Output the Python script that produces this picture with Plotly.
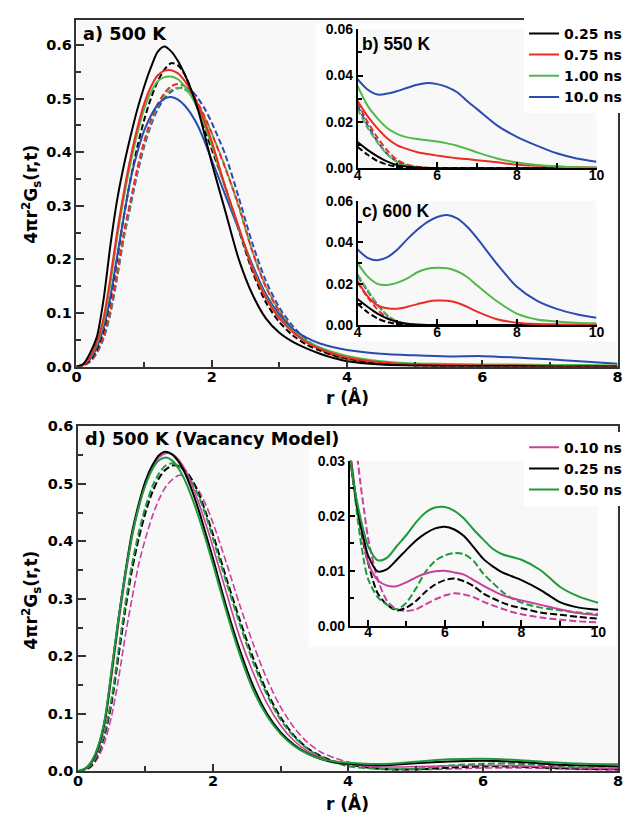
import plotly.graph_objects as go

# ---------------- data ----------------
R_MAIN = [0, 0.1, 0.2, 0.3, 0.4, 0.5, 0.6, 0.7, 0.8, 0.9, 1.0, 1.1, 1.2, 1.3, 1.4, 1.5, 1.6, 1.7, 1.8, 1.9,
          2.0, 2.2, 2.4, 2.6, 2.8, 3.0, 3.2, 3.4, 3.6, 3.8, 4.0,
          4.5, 5.0, 5.5, 6.0, 6.5, 7.0, 7.5, 8.0]

# panel a (500 K)
A_BK_S = [0, 0.005, 0.025, 0.055, 0.125, 0.225, 0.31, 0.375, 0.43, 0.48, 0.522, 0.558, 0.587, 0.597, 0.588, 0.57, 0.545, 0.515, 0.478, 0.43,
          0.38, 0.29, 0.20, 0.135, 0.09, 0.063, 0.046, 0.034, 0.024, 0.016, 0.010,
          0.004, 0.002, 0.001, 0.001, 0.001, 0.0, 0.0, 0.0]
A_BK_D = [0, 0.003, 0.012, 0.032, 0.068, 0.125, 0.2, 0.28, 0.35, 0.41, 0.46, 0.5, 0.532, 0.554, 0.566, 0.562, 0.545, 0.515, 0.478, 0.44,
          0.405, 0.335, 0.255, 0.178, 0.12, 0.083, 0.058, 0.041, 0.03, 0.021, 0.015,
          0.006, 0.002, 0.001, 0.001, 0.001, 0, 0, 0]
A_RD_S = [0, 0.004, 0.018, 0.045, 0.09, 0.165, 0.25, 0.325, 0.39, 0.445, 0.49, 0.522, 0.543, 0.552, 0.553, 0.547, 0.533, 0.513, 0.487, 0.455,
          0.42, 0.335, 0.26, 0.183, 0.128, 0.09, 0.064, 0.045, 0.033, 0.024, 0.017,
          0.008, 0.004, 0.003, 0.002, 0.002, 0.001, 0.001, 0.0]
A_RD_D = [0, 0.002, 0.01, 0.028, 0.058, 0.105, 0.175, 0.25, 0.31, 0.37, 0.42, 0.46, 0.49, 0.51, 0.523, 0.527, 0.523, 0.51, 0.49, 0.465,
          0.435, 0.37, 0.30, 0.215, 0.148, 0.103, 0.069, 0.047, 0.032, 0.021, 0.014,
          0.005, 0.002, 0.001, 0.001, 0, 0, 0, 0]
A_GR_S = [0, 0.004, 0.017, 0.042, 0.083, 0.155, 0.24, 0.315, 0.38, 0.435, 0.48, 0.512, 0.532, 0.54, 0.541, 0.536, 0.523, 0.504, 0.479, 0.448,
          0.413, 0.333, 0.258, 0.185, 0.13, 0.092, 0.066, 0.048, 0.036, 0.027, 0.020,
          0.010, 0.006, 0.005, 0.004, 0.004, 0.003, 0.003, 0.002]
A_GR_D = [0, 0.002, 0.01, 0.027, 0.056, 0.102, 0.17, 0.245, 0.305, 0.365, 0.415, 0.455, 0.485, 0.505, 0.516, 0.52, 0.517, 0.506, 0.488, 0.463,
          0.435, 0.372, 0.297, 0.215, 0.15, 0.104, 0.07, 0.047, 0.032, 0.021, 0.014,
          0.006, 0.002, 0.001, 0.001, 0, 0, 0, 0]
A_BL_S = [0, 0.003, 0.014, 0.036, 0.072, 0.13, 0.205, 0.28, 0.35, 0.40, 0.44, 0.468, 0.488, 0.5, 0.503, 0.498, 0.487, 0.47, 0.448, 0.418,
          0.385, 0.32, 0.255, 0.19, 0.135, 0.097, 0.07, 0.054, 0.043, 0.036, 0.031,
          0.024, 0.021, 0.019, 0.0195, 0.017, 0.0135, 0.0095, 0.0055]
A_BL_D = [0, 0.002, 0.009, 0.025, 0.052, 0.098, 0.165, 0.24, 0.30, 0.36, 0.41, 0.45, 0.48, 0.5, 0.513, 0.519, 0.521, 0.515, 0.5, 0.48,
          0.455, 0.395, 0.315, 0.23, 0.16, 0.11, 0.075, 0.05, 0.034, 0.023, 0.016,
          0.007, 0.003, 0.002, 0.001, 0.001, 0, 0, 0]

# insets b (550 K) and c (600 K)
R_IN = [4.0, 4.25, 4.5, 4.75, 5.0, 5.25, 5.5, 5.75, 6.0, 6.25, 6.5, 6.75, 7.0, 7.5, 8.0, 8.5, 9.0, 9.5, 10.0]
B_BK_S = [0.0113, 0.0079, 0.0051, 0.0028, 0.0013, 0.0006, 0.0003, 0.0001, 0, 0, 0, 0, 0, 0, 0, 0, 0, 0, 0]
B_BK_D = [0.0092, 0.0058, 0.0031, 0.0015, 0.0006, 0.0002, 0, 0, 0, 0, 0, 0, 0, 0, 0, 0, 0, 0, 0]
B_RD_S = [0.029, 0.0225, 0.0172, 0.0128, 0.0098, 0.0082, 0.0069, 0.0061, 0.0054, 0.0048, 0.0043, 0.0039, 0.0034, 0.0025, 0.0015, 0.001, 0.0007, 0.0004, 0.0003]
B_RD_D = [0.0285, 0.02, 0.0132, 0.0075, 0.0035, 0.0015, 0.0006, 0.0002, 0, 0, 0, 0, 0, 0, 0, 0, 0, 0, 0]
B_GR_S = [0.0355, 0.027, 0.0215, 0.0172, 0.0147, 0.0133, 0.0126, 0.012, 0.0115, 0.0107, 0.0097, 0.0083, 0.0068, 0.0042, 0.0024, 0.0013, 0.0007, 0.0004, 0.0003]
B_GR_D = [0.0255, 0.0175, 0.011, 0.0058, 0.0026, 0.001, 0.0004, 0, 0, 0, 0, 0, 0, 0, 0, 0, 0, 0, 0]
B_BL_S = [0.0385, 0.034, 0.0318, 0.0322, 0.0333, 0.0347, 0.036, 0.0368, 0.0363, 0.035, 0.0328, 0.029, 0.0255, 0.0185, 0.0135, 0.0097, 0.0064, 0.0042, 0.0028]
B_BL_D = [0.027, 0.0185, 0.0115, 0.006, 0.0027, 0.0011, 0.0004, 0.0001, 0, 0, 0, 0, 0, 0, 0, 0, 0, 0, 0]

C_BK_S = [0.0126, 0.0088, 0.0055, 0.0031, 0.0015, 0.0006, 0.0002, 0, 0, 0, 0, 0, 0, 0, 0, 0, 0, 0, 0]
C_BK_D = [0.0103, 0.0062, 0.0032, 0.0014, 0.0005, 0.0001, 0, 0, 0, 0, 0, 0, 0, 0, 0, 0, 0, 0, 0]
C_RD_S = [0.0213, 0.014, 0.0095, 0.0081, 0.0079, 0.0088, 0.0101, 0.0113, 0.0118, 0.0117, 0.0108, 0.0088, 0.0065, 0.0028, 0.0011, 0.0005, 0.0003, 0.0002, 0.0002]
C_RD_D = [0.0205, 0.0135, 0.0075, 0.0033, 0.0013, 0.0004, 0, 0, 0, 0, 0, 0, 0, 0, 0, 0, 0, 0, 0]
C_GR_S = [0.030, 0.0235, 0.0199, 0.0194, 0.0205, 0.0225, 0.0255, 0.0272, 0.0277, 0.0274, 0.026, 0.0232, 0.0192, 0.0115, 0.0055, 0.0027, 0.0017, 0.0011, 0.0008]
C_GR_D = [0.0245, 0.017, 0.010, 0.0046, 0.0017, 0.0006, 0, 0, 0, 0, 0, 0, 0, 0, 0, 0, 0, 0, 0]
C_BL_S = [0.0365, 0.0325, 0.0313, 0.0328, 0.0365, 0.0415, 0.046, 0.0497, 0.0522, 0.0532, 0.0515, 0.0475, 0.042, 0.0295, 0.0185, 0.0118, 0.0078, 0.0052, 0.0035]
C_BL_D = [0.0237, 0.0165, 0.0098, 0.0045, 0.0017, 0.0006, 0, 0, 0, 0, 0, 0, 0, 0, 0, 0, 0, 0, 0]

# panel d (500 K, vacancy model)
D_MG_S = [0, 0.003, 0.014, 0.038, 0.083, 0.165, 0.255, 0.335, 0.405, 0.458, 0.498, 0.527, 0.546, 0.553, 0.551, 0.541, 0.522, 0.495, 0.463, 0.428,
          0.39, 0.31, 0.232, 0.17, 0.118, 0.08, 0.053, 0.035, 0.023, 0.016, 0.0115,
          0.0073, 0.0079, 0.0095, 0.01, 0.0093, 0.0073, 0.0056, 0.0046]
D_MG_D = [0, 0.002, 0.008, 0.024, 0.052, 0.097, 0.16, 0.235, 0.3, 0.36, 0.405, 0.443, 0.473, 0.495, 0.508, 0.515, 0.513, 0.503, 0.486, 0.462,
          0.432, 0.362, 0.288, 0.22, 0.16, 0.112, 0.076, 0.05, 0.033, 0.023, 0.016,
          0.0045, 0.0027, 0.0039, 0.0055, 0.0057, 0.0044, 0.0031, 0.0021]
D_BK_S = [0, 0.004, 0.016, 0.042, 0.09, 0.175, 0.265, 0.345, 0.415, 0.465, 0.505, 0.532, 0.55, 0.556, 0.551, 0.537, 0.515, 0.485, 0.45, 0.41,
          0.37, 0.285, 0.21, 0.147, 0.10, 0.068, 0.046, 0.031, 0.021, 0.015, 0.0128,
          0.0103, 0.0138, 0.0168, 0.018, 0.0163, 0.0122, 0.0097, 0.0083]
D_BK_D = [0, 0.002, 0.01, 0.03, 0.065, 0.12, 0.2, 0.28, 0.35, 0.405, 0.45, 0.485, 0.51, 0.525, 0.532, 0.531, 0.522, 0.505, 0.48, 0.448,
          0.412, 0.335, 0.262, 0.195, 0.138, 0.094, 0.062, 0.04, 0.026, 0.017, 0.0115,
          0.0038, 0.0033, 0.0062, 0.0083, 0.0081, 0.0059, 0.0042, 0.0032]
D_GR_S = [0, 0.004, 0.017, 0.044, 0.092, 0.178, 0.265, 0.343, 0.41, 0.46, 0.498, 0.525, 0.541, 0.546, 0.54, 0.525, 0.502, 0.472, 0.438, 0.40,
          0.36, 0.277, 0.202, 0.14, 0.096, 0.065, 0.044, 0.03, 0.021, 0.017, 0.0145,
          0.0124, 0.0165, 0.0206, 0.0216, 0.0195, 0.0157, 0.013, 0.012]
D_GR_D = [0, 0.003, 0.012, 0.033, 0.07, 0.128, 0.21, 0.29, 0.36, 0.415, 0.46, 0.495, 0.518, 0.532, 0.536, 0.531, 0.519, 0.5, 0.475, 0.443,
          0.405, 0.328, 0.255, 0.188, 0.133, 0.09, 0.06, 0.039, 0.025, 0.016, 0.0085,
          0.0038, 0.0042, 0.0098, 0.0128, 0.013, 0.0095, 0.0062, 0.0042]

R_IND = [3.5, 3.6, 3.7, 3.8, 3.9, 4.0, 4.25, 4.5, 4.75, 5.0, 5.25, 5.5, 5.75, 6.0, 6.25, 6.5, 6.75, 7.0, 7.25, 7.5, 7.75, 8.0, 8.5, 9.0, 9.5, 10.0]
ID_MG_S = [0.033, 0.028, 0.0225, 0.0185, 0.0148, 0.0115, 0.0083, 0.0073, 0.0072, 0.0079, 0.0088, 0.0095, 0.0099, 0.01, 0.0097, 0.0093, 0.0083, 0.0073, 0.0064, 0.0056, 0.005, 0.0046, 0.0038, 0.003, 0.0023, 0.0019]
ID_MG_D = [0.045, 0.038, 0.032, 0.026, 0.0208, 0.016, 0.0085, 0.0045, 0.003, 0.0027, 0.003, 0.0039, 0.0048, 0.0055, 0.0059, 0.0057, 0.0052, 0.0044, 0.0037, 0.0031, 0.0025, 0.0021, 0.0015, 0.0011, 0.0008, 0.0006]
ID_BK_S = [0.032, 0.027, 0.0225, 0.0186, 0.0155, 0.0128, 0.0099, 0.0103, 0.012, 0.0138, 0.0155, 0.0168, 0.0177, 0.018, 0.0175, 0.0163, 0.0143, 0.0122, 0.0108, 0.0097, 0.009, 0.0083, 0.0065, 0.0043, 0.0033, 0.0029]
ID_BK_D = [0.035, 0.0273, 0.022, 0.018, 0.0143, 0.0115, 0.0059, 0.0038, 0.0028, 0.0033, 0.0045, 0.0062, 0.0075, 0.0083, 0.0086, 0.0081, 0.0072, 0.0059, 0.005, 0.0042, 0.0036, 0.0032, 0.0024, 0.002, 0.0016, 0.0013]
ID_GR_S = [0.033, 0.027, 0.023, 0.0197, 0.0168, 0.0145, 0.0119, 0.0124, 0.0145, 0.0165, 0.0188, 0.0206, 0.0215, 0.0216, 0.0209, 0.0195, 0.0175, 0.0157, 0.014, 0.013, 0.0125, 0.012, 0.0101, 0.0071, 0.0053, 0.0042]
ID_GR_D = [0.034, 0.0275, 0.021, 0.0158, 0.0115, 0.0085, 0.0052, 0.0038, 0.003, 0.0042, 0.0068, 0.0098, 0.0118, 0.0128, 0.0132, 0.013, 0.0118, 0.0095, 0.0078, 0.0062, 0.005, 0.0042, 0.0033, 0.0028, 0.0024, 0.0021]

LEG_A = ["0.25 ns", "0.75 ns", "1.00 ns", "10.0 ns"]
LEG_D = ["0.10 ns", "0.25 ns", "0.50 ns"]

# ---------------- style ----------------
W, H = 630, 824
FONT = "Liberation Sans, Arial, sans-serif"
WIDE = "DejaVu Sans, Verdana, sans-serif"
BLACK, RED, GREEN, BLUE = "#000000", "#ee2a24", "#52b848", "#2b4bb0"
MAGENTA, DGREEN = "#c8409c", "#1e9a3c"


def px(x):
    return x / W


def py(y):
    return 1 - y / H


fig = go.Figure()


def add(x, y, color, dash, ax, width=2.0, name=None, legend=None):
    fig.add_trace(go.Scatter(
        x=x, y=y, mode="lines", xaxis="x" + ax, yaxis="y" + ax,
        line=dict(color=color, width=width, dash=dash, shape="spline", smoothing=0.8),
        name=name, showlegend=name is not None, legend=legend, hoverinfo="skip"))


DA = "6px,3px"
# panel a
for ys, c in [(A_BL_D, BLUE), (A_GR_D, GREEN), (A_RD_D, RED), (A_BK_D, BLACK)]:
    add(R_MAIN, ys, c, DA, "")
for ys, c in [(A_BL_S, BLUE), (A_GR_S, GREEN), (A_RD_S, RED), (A_BK_S, BLACK)]:
    add(R_MAIN, ys, c, None, "")
# inset b
for ys, c in [(B_BL_D, BLUE), (B_GR_D, GREEN), (B_RD_D, RED), (B_BK_D, BLACK)]:
    add(R_IN, ys, c, DA, "2")
for ys, c, n in [(B_BK_S, BLACK, LEG_A[0]), (B_RD_S, RED, LEG_A[1]), (B_GR_S, GREEN, LEG_A[2]), (B_BL_S, BLUE, LEG_A[3])]:
    add(R_IN, ys, c, None, "2", name=n, legend="legend")
# inset c
for ys, c in [(C_BL_D, BLUE), (C_GR_D, GREEN), (C_RD_D, RED), (C_BK_D, BLACK)]:
    add(R_IN, ys, c, DA, "3")
for ys, c in [(C_BK_S, BLACK), (C_RD_S, RED), (C_GR_S, GREEN), (C_BL_S, BLUE)]:
    add(R_IN, ys, c, None, "3")
# panel d
DD = "7px,3px"
for ys, c, w in [(D_MG_D, MAGENTA, 1.6), (D_BK_D, BLACK, 2.0), (D_GR_D, DGREEN, 2.0)]:
    add(R_MAIN, ys, c, DD, "4", width=w)
for ys, c, w in [(D_MG_S, MAGENTA, 1.6), (D_BK_S, BLACK, 2.0), (D_GR_S, DGREEN, 2.0)]:
    add(R_MAIN, ys, c, None, "4", width=w)
# inset d
for ys, c, w in [(ID_MG_D, MAGENTA, 2.0), (ID_BK_D, BLACK, 2.0), (ID_GR_D, DGREEN, 2.0)]:
    add(R_IND, ys, c, DD, "5", width=w)
for ys, c, w, n in [(ID_MG_S, MAGENTA, 2.0, LEG_D[0]), (ID_BK_S, BLACK, 2.0, LEG_D[1]), (ID_GR_S, DGREEN, 2.0, LEG_D[2])]:
    add(R_IND, ys, c, None, "5", width=w, name=n, legend="legend2")

tick_main = dict(family=WIDE, size=14.5, color="black", weight="bold")
tick_in = dict(family=FONT, size=14, color="black", weight="bold")


def main_x(dom):
    return dict(domain=dom, range=[0, 8], dtick=2, tick0=0, ticks="inside", ticklen=7, tickwidth=1.5,
                tickcolor="#333", showline=True, linecolor="#333", linewidth=1.5, mirror=True,
                showgrid=False, zeroline=False, tickfont=tick_main, ticklabelstandoff=-4,
                minor=dict(dtick=1, tick0=0, ticks="inside", ticklen=5, tickcolor="#333", tickwidth=1.5))


def main_y(dom, rng):
    return dict(domain=dom, range=rng, dtick=0.1, tick0=0, tickformat=".1f", ticks="inside", ticklen=8,
                tickwidth=1.5, tickcolor="#333", showline=True, linecolor="#333", linewidth=1.5, mirror=True,
                showgrid=False, zeroline=False, tickfont=tick_main,
                minor=dict(dtick=0.05, tick0=0, ticks="inside", ticklen=5, tickcolor="#333", tickwidth=1.5))


def in_x(dom, rng, anchor):
    return dict(domain=dom, range=rng, tickvals=[4, 6, 8, 10], ticks="inside", ticklen=6, tickwidth=1.5,
                tickcolor="black", showline=True, linecolor="black", linewidth=1.5, mirror=False,
                showgrid=False, zeroline=False, tickfont=tick_in, anchor=anchor, ticklabelstandoff=-7,
                minor=dict(tickvals=[5, 7, 9], ticks="inside", ticklen=5, tickcolor="black", tickwidth=1.5))


def in_y(dom, rng, dt, anchor):
    return dict(domain=dom, range=rng, dtick=dt, tick0=0, tickformat=".2f", ticks="inside", ticklen=6,
                tickwidth=1.5, tickcolor="black", showline=True, linecolor="black", linewidth=1.5,
                mirror=False, showgrid=False, zeroline=False, tickfont=tick_in, anchor=anchor,
                minor=dict(dtick=dt / 2, tick0=0, ticks="inside", ticklen=5, tickcolor="black", tickwidth=1.5))


leg_font = dict(family=WIDE, size=14, color="black", weight="bold")
fig.update_layout(
    width=W, height=H, margin=dict(l=0, r=0, t=0, b=0),
    paper_bgcolor="white", plot_bgcolor="#f8f8f8",
    xaxis=main_x([px(73), px(625.5)]) | dict(anchor="y"),
    yaxis=main_y([py(365.7), py(12.7)], [0, 0.6457]) | dict(anchor="x"),
    xaxis2=in_x([px(360), px(604)], [4, 10], "y2"),
    yaxis2=in_y([py(163.3), py(21.7)], [0, 0.06], 0.02, "x2"),
    xaxis3=in_x([px(360), px(604)], [4, 10], "y3"),
    yaxis3=in_y([py(323.3), py(196.7)], [0, 0.06], 0.02, "x3"),
    xaxis4=main_x([px(74.5), px(626)]) | dict(anchor="y4"),
    yaxis4=main_y([py(778.3), py(426.7)], [0, 0.6]) | dict(anchor="x4"),
    xaxis5=in_x([px(351.9), px(605.7)], [3.52, 10], "y5"),
    yaxis5=in_y([py(630), py(461.7)], [0, 0.03], 0.01, "x5"),
    legend=dict(x=px(530), y=py(10), xanchor="left", yanchor="top", bgcolor="white", borderwidth=0,
                font=leg_font, itemwidth=30, tracegroupgap=0),
    legend2=dict(x=px(530), y=py(432), xanchor="left", yanchor="top", bgcolor="white", borderwidth=0,
                 font=leg_font, itemwidth=30, tracegroupgap=0),
)

# white patches behind insets
fig.add_shape(type="rect", xref="paper", yref="paper", x0=px(318), x1=px(624), y0=py(340), y1=py(15),
              fillcolor="white", line_width=0, layer="below")
fig.add_shape(type="rect", xref="paper", yref="paper", x0=px(310), x1=px(624), y0=py(652), y1=py(430),
              fillcolor="white", line_width=0, layer="below")

ann = []


def label(text, x, y, size, family, xanchor="left", angle=0):
    ann.append(dict(text=text, x=px(x), y=py(y), xref="paper", yref="paper", showarrow=False,
                    xanchor=xanchor, yanchor="middle", textangle=angle,
                    font=dict(family=family, size=size, color="black", weight="bold")))


label("a) 500 K", 78, 27, 17.7, WIDE)
label("b) 550 K", 362, 37, 17.5, FONT)
label("c) 600 K", 362, 207, 17.5, FONT)
label("d) 500 K (Vacancy Model)", 80, 440, 17.7, WIDE)
label("4πr<sup>2</sup>G<sub>s</sub>(r,t)", 27, 190, 17, WIDE, xanchor="center", angle=-90)
label("4πr<sup>2</sup>G<sub>s</sub>(r,t)", 27, 604, 17, WIDE, xanchor="center", angle=-90)
label("r (Å)", 350, 397, 17, WIDE, xanchor="center")
label("r (Å)", 350, 811, 17, WIDE, xanchor="center")
fig.update_layout(annotations=ann)

fig.write_html("out.html")
